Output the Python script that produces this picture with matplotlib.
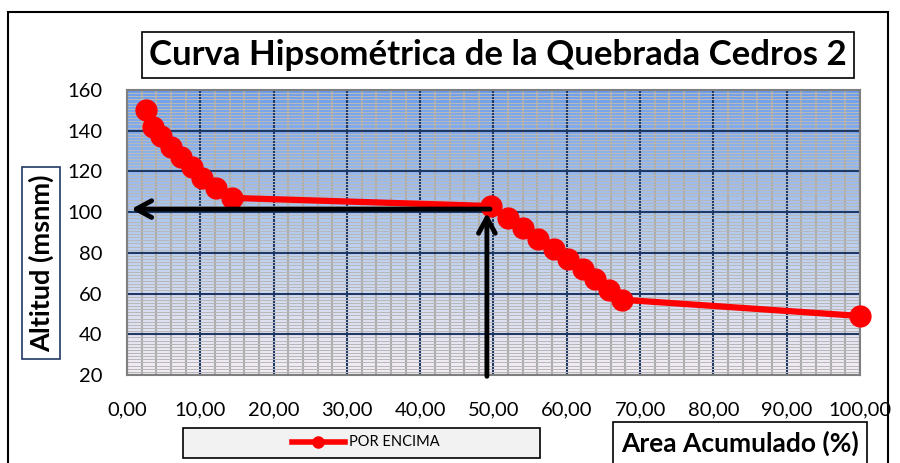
import numpy as np
import matplotlib
matplotlib.use('Agg')
import matplotlib.pyplot as plt
from matplotlib.colors import LinearSegmentedColormap
from matplotlib.ticker import MultipleLocator, AutoMinorLocator
from matplotlib.patches import Rectangle

plt.rcParams['font.family'] = ['Lato', 'DejaVu Sans']

# area acumulada (%) y altitud (msnm)
area = [2.6, 3.6, 4.7, 6.0, 7.4, 8.8, 10.3, 12.2, 14.3,
        49.7, 52.0, 54.0, 56.1, 58.3, 60.2, 62.2, 63.9, 65.8, 67.5, 100.0]
altitud = [150, 142, 137.5, 132, 127, 122, 117, 112, 107,
           103, 97, 92, 87, 82, 77, 72, 67, 62, 57, 49]
xticks = np.arange(0, 101, 10)
xlabels = ['%.2f' % v for v in xticks]
xlabels = [s.replace('.', ',') for s in xlabels]
yticks = np.arange(20, 161, 20)
area_media = 49.1
alt_media = 101.5

fig = plt.figure(figsize=(9, 4.63), dpi=100)
W, H = 900, 463

# marco exterior
fig.patches.append(Rectangle((8 / W, -0.1), 880 / W, 1.1 - 12 / H, transform=fig.transFigure,
                             fill=False, ec='black', lw=1.5))

ax = fig.add_axes([127 / W, 88 / H, 733 / W, 285 / H])

# fondo degradado
cmap = LinearSegmentedColormap.from_list('fondo', ['#f7eef6', '#b6cdf0', '#6e9fec'])
grad = np.linspace(0, 1, 256).reshape(-1, 1)
ax.imshow(grad, extent=[0, 100, 20, 160], aspect='auto', cmap=cmap, origin='lower', zorder=0)

ax.set_xlim(0, 100)
ax.set_ylim(20, 160)
ax.set_xticks(xticks)
ax.set_xticklabels(xlabels)
ax.set_yticks(yticks)
ax.xaxis.set_minor_locator(MultipleLocator(2))
ax.yaxis.set_minor_locator(AutoMinorLocator(13))
ax.set_axisbelow(True)
ax.grid(which='minor', axis='y', color='#b8b8b8', lw=0.75)
ax.grid(which='minor', axis='x', color='#acacac', lw=1.5)
ax.grid(which='major', color='#1f3864', lw=1.5)
ax.tick_params(which='both', length=0, labelsize=14.5, colors='black')
ax.tick_params(axis='x', pad=19)
ax.tick_params(axis='y', pad=18)
for s in ax.spines.values():
    s.set_color('#7f7f7f')
    s.set_linewidth(1.5)

ax.plot(area, altitud, color='red', lw=4.5, marker='o', ms=15, zorder=4, clip_on=False)

arrow = dict(arrowstyle='->,head_length=1.1,head_width=0.6', lw=3.5, color='black')
ax.annotate('', xy=(0.2, alt_media), xytext=(area_media + 0.8, alt_media),
            arrowprops=arrow, zorder=5, annotation_clip=False)
ax.annotate('', xy=(area_media, alt_media - 0.5), xytext=(area_media, 18),
            arrowprops=arrow, zorder=5, annotation_clip=False)

# titulo
fig.text(498 / W, 1 - 55 / H, 'Curva Hipsométrica de la Quebrada Cedros 2', ha='center', va='center',
         fontsize=25, fontweight='bold',
         bbox=dict(boxstyle='square,pad=0.2', fc='white', ec='black', lw=1.2))

# etiqueta eje y
fig.text(41 / W, 1 - 263 / H, 'Altitud (msnm)', rotation=90, ha='center', va='center',
         fontsize=19.5, fontweight='bold',
         bbox=dict(boxstyle='square,pad=0.25', fc='white', ec='#1f3864', lw=1.2))

# etiqueta eje x
fig.text(740 / W, 1 - 443 / H, 'Area Acumulado (%)', ha='center', va='center',
         fontsize=19, fontweight='bold',
         bbox=dict(boxstyle='square,pad=0.3', fc='white', ec='black', lw=1.2))

# leyenda
fig.patches.append(Rectangle((183 / W, 1 - 458 / H), 357 / W, 30 / H, transform=fig.transFigure,
                             fc='#f2f2f2', ec='black', lw=1.2))
fig.lines.append(plt.Line2D([292 / W, 318 / W, 345 / W], [1 - 442 / H] * 3, transform=fig.transFigure,
                            color='red', lw=4, marker='o', ms=8, markevery=[1]))
fig.text(349 / W, 1 - 442 / H, 'POR ENCIMA', ha='left', va='center', fontsize=10.5)

fig.savefig('out.png', dpi=100)
